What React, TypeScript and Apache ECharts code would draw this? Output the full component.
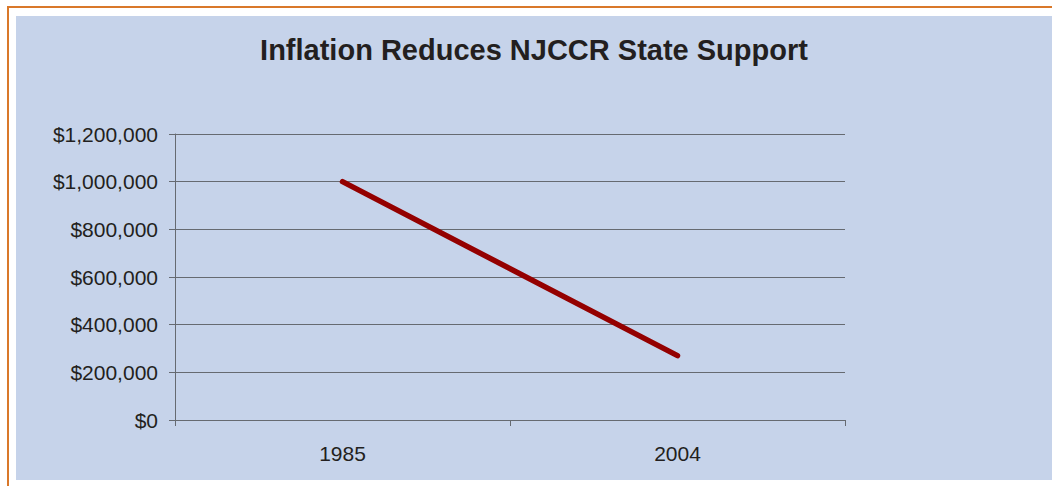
import React, { useEffect, useRef } from "react";
import * as echarts from "echarts";

const categories = ["1985", "2004"];
const supportValues = [1000000, 270000];
const titleText = "Inflation Reduces NJCCR State Support";
const yMin = 0;
const yMax = 1200000;
const yInterval = 200000;

function formatMoney(v: number): string {
  return "$" + Math.round(v).toString().replace(/\B(?=(\d{3})+(?!\d))/g, ",");
}

export default function App() {
  const ref = useRef<HTMLDivElement>(null);
  useEffect(() => {
    if (!ref.current) return;
    const chart = echarts.init(ref.current, null, { renderer: "svg" });
    const axisColor = "#666a71";
    const textColor = "#231f20";
    chart.setOption({
      animation: false,
      backgroundColor: "#ffffff",
      graphic: [
        {
          type: "rect",
          shape: { x: 16, y: 16, width: 1036, height: 464 },
          style: { fill: "#c6d3ea" },
          z: -10,
          silent: true,
        },
        {
          type: "line",
          shape: { x1: 7, y1: 7, x2: 1052, y2: 7 },
          style: { stroke: "#d9782a", lineWidth: 2 },
          silent: true,
        },
        {
          type: "line",
          shape: { x1: 8, y1: 6, x2: 8, y2: 486 },
          style: { stroke: "#d9782a", lineWidth: 2 },
          silent: true,
        },
        {
          type: "text",
          x: 534,
          y: 50,
          style: {
            text: titleText,
            fill: textColor,
            font: "bold 29px 'Liberation Sans', Arial, sans-serif",
            align: "center",
            verticalAlign: "middle",
          },
          silent: true,
        },
      ],
      grid: { left: 175, right: 207, top: 134, bottom: 66, containLabel: false },
      xAxis: {
        type: "category",
        data: categories,
        boundaryGap: true,
        axisLine: { show: true, lineStyle: { color: axisColor, width: 1 } },
        axisTick: { show: true, length: 6, inside: false, lineStyle: { color: axisColor } },
        axisLabel: {
          margin: 23,
          color: textColor,
          fontSize: 21,
          fontFamily: "'Liberation Sans', Arial, sans-serif",
        },
        splitLine: { show: false },
      },
      yAxis: {
        type: "value",
        min: yMin,
        max: yMax,
        interval: yInterval,
        axisLine: { show: true, lineStyle: { color: axisColor, width: 1 } },
        axisTick: { show: true, length: 6, lineStyle: { color: axisColor } },
        axisLabel: {
          margin: 17,
          color: textColor,
          fontSize: 21,
          fontFamily: "'Liberation Sans', Arial, sans-serif",
          formatter: (v: number) => formatMoney(v),
        },
        splitLine: { show: true, lineStyle: { color: axisColor, width: 1 } },
      },
      series: [
        {
          type: "line",
          data: supportValues,
          showSymbol: false,
          symbol: "none",
          lineStyle: { color: "#940000", width: 5.5, cap: "round" },
          itemStyle: { color: "#940000" },
        },
      ],
    });
    return () => chart.dispose();
  }, []);
  return (
    <div
      ref={ref}
      style={{ position: "fixed", left: 0, top: 0, width: 1052, height: 486 }}
    />
  );
}
